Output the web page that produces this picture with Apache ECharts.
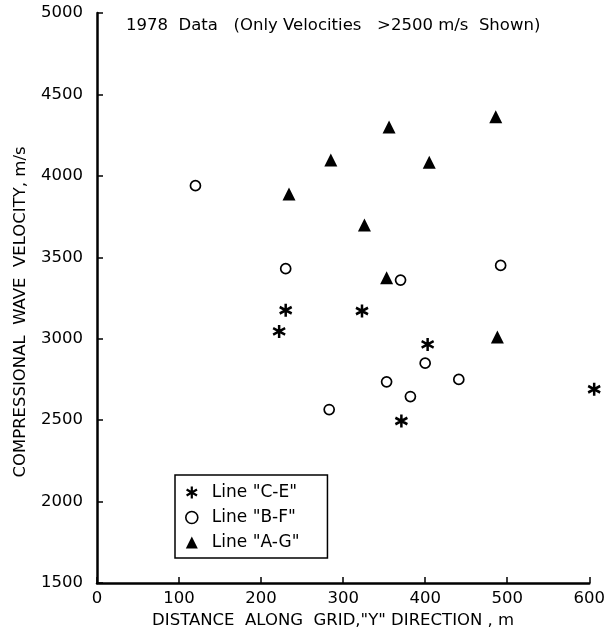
<!DOCTYPE html>
<html>
<head>
<meta charset="utf-8">
<script src="https://cdn.jsdelivr.net/npm/echarts@6/dist/echarts.min.js"></script>
<style>html,body{margin:0;padding:0;background:#fff}#c{width:608px;height:635px}</style>
</head>
<body>
<div id="c"></div>
<script>
// Line "C-E" (asterisks): [distance m, velocity m/s]
var lineCE = [[230,3175],[323,3170],[222,3045],[403,2965],[371,2495],[606,2690]];
// Line "B-F" (open circles)
var lineBF = [[120,3940],[230,3430],[492,3450],[370,3360],[400,2850],[441,2750],[353,2735],[382,2645],[283,2565]];
// Line "A-G" (filled triangles)
var lineAG = [[356,4300],[486,4363],[285,4097],[405,4083],[234,3889],[326,3699],[353,3375],[488,3011]];
var seriesNames = ['Line "C-E"', 'Line "B-F"', 'Line "A-G"'];
var titleText = '1978  Data   (Only Velocities   >2500 m/s  Shown)';
var xName = 'DISTANCE  ALONG  GRID,"Y" DIRECTION , m';
var yName = 'COMPRESSIONAL  WAVE  VELOCITY, m/s';

var FONT = 'DejaVu Sans';
var asterisk = 'path://M0,-10L0,10M-8.66,-5L8.66,5M-8.66,5L8.66,-5';
var chart = echarts.init(document.getElementById('c'), null, {renderer:'canvas'});
var axisCommon = {
  axisLine:{show:true,onZero:false,lineStyle:{color:'#000',width:2.5}},
  axisTick:{show:true,inside:true,length:6,lineStyle:{color:'#000',width:1.5}},
  splitLine:{show:false},
  axisLabel:{color:'#000',fontFamily:FONT,fontSize:16.5,formatter:function(v){return String(v);}},
  nameTextStyle:{color:'#000',fontFamily:FONT,fontSize:16.5}
};
chart.setOption({
  animation:false,
  backgroundColor:'#fff',
  title:{text:titleText,left:126,top:17,padding:0,textStyle:{color:'#000',fontFamily:FONT,fontSize:16.5,fontWeight:'normal'}},
  grid:{left:97,right:18,top:13,bottom:52,containLabel:false},
  xAxis:Object.assign({},axisCommon,{type:'value',min:0,max:600,interval:100,
    name:xName,nameLocation:'middle',nameGap:28,
    nameTextStyle:Object.assign({},axisCommon.nameTextStyle,{padding:[0,20,0,0]}),
    axisLabel:Object.assign({},axisCommon.axisLabel,{margin:7})}),
  yAxis:Object.assign({},axisCommon,{type:'value',min:1500,max:5000,interval:500,
    name:yName,nameLocation:'middle',nameGap:68,
    nameTextStyle:Object.assign({},axisCommon.nameTextStyle,{padding:[0,28,0,0]}),
    axisLabel:Object.assign({},axisCommon.axisLabel,{margin:14})}),
  legend:{
    orient:'vertical',left:175,top:475,
    padding:[9,28,7,10],itemGap:8,itemWidth:12,itemHeight:12,
    borderColor:'#000',borderWidth:1.5,
    textStyle:{color:'#000',fontFamily:FONT,fontSize:17,padding:[0,0,0,9]},
    data:[
      {name:seriesNames[0],icon:asterisk,itemStyle:{color:'#000',borderColor:'#000',borderWidth:2.2}},
      {name:seriesNames[1],icon:'circle',itemStyle:{color:'#fff',borderColor:'#000',borderWidth:1.6}},
      {name:seriesNames[2],icon:'triangle',itemStyle:{color:'#000',borderWidth:0}}
    ]
  },
  series:[
    {name:seriesNames[0],type:'scatter',data:lineCE,clip:false,symbol:asterisk,symbolSize:[12,13],
      itemStyle:{color:'#000',borderColor:'#000',borderWidth:2.6,opacity:1}},
    {name:seriesNames[1],type:'scatter',data:lineBF,clip:false,symbol:'circle',symbolSize:10,
      itemStyle:{color:'#fff',borderColor:'#000',borderWidth:1.7,opacity:1}},
    {name:seriesNames[2],type:'scatter',data:lineAG,clip:false,symbol:'triangle',symbolSize:13,
      itemStyle:{color:'#000',borderColor:'#000',borderWidth:0,opacity:1}}
  ]
});
</script>
</body>
</html>
